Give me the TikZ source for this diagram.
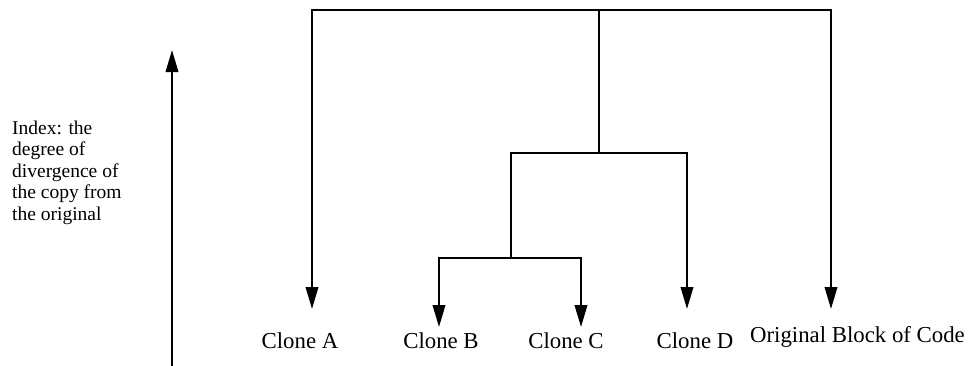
\documentclass[tikz,border=0pt]{standalone}
\usepackage{fontspec}
\setmainfont{Liberation Serif}
\usetikzlibrary{arrows.meta}
\begin{document}
\begin{tikzpicture}[x=1pt,y=-1pt,
  wire/.style={line width=2.2pt,line join=miter},
  conn/.style={wire,-{Triangle[length=22pt,width=12.5pt]}},
  leaf/.style={inner sep=0pt,anchor=base,font=\fontsize{22.8}{27}\selectfont},
  note/.style={inner sep=0pt,anchor=north west,align=left,font=\fontsize{19.5}{21.5}\selectfont}]
\useasboundingbox (0,0) rectangle (970,365);

% leaf labels
\node[leaf] (cA) at (300,348) {Clone A};
\node[leaf] (cB) at (441,348) {Clone B};
\node[leaf] (cC) at (566,348) {Clone C};
\node[leaf] (cD) at (695,348) {Clone D};
\node[leaf] (orig) at (857.5,342) {Original Block of Code};

% arrow tips above the labels
\coordinate (tA) at (312,309);
\coordinate (tB) at (439,327);
\coordinate (tC) at (581,327);
\coordinate (tD) at (687,309);
\coordinate (tO) at (831,309);

% branch points of the tree
\coordinate (root) at (599,10);
\coordinate (j1) at (599,153);
\coordinate (j2) at (511,258);

% tree connectors
\draw[conn] (root) -| (tA);
\draw[conn] (root) -| (tO);
\draw[wire] (root) -- (j1);
\draw[wire] (j1) -| (j2);
\draw[conn] (j1) -| (tD);
\draw[conn] (j2) -| (tB);
\draw[conn] (j2) -| (tC);

% divergence axis
\coordinate (axbot) at (172,366);
\coordinate (axtop) at (172,50);
\draw[conn] (axbot) -- (axtop);
\node[note] (idx) at (12,120.5) {Index: the\\degree of\\divergence of\\the copy from\\the original};
\end{tikzpicture}
\end{document}
